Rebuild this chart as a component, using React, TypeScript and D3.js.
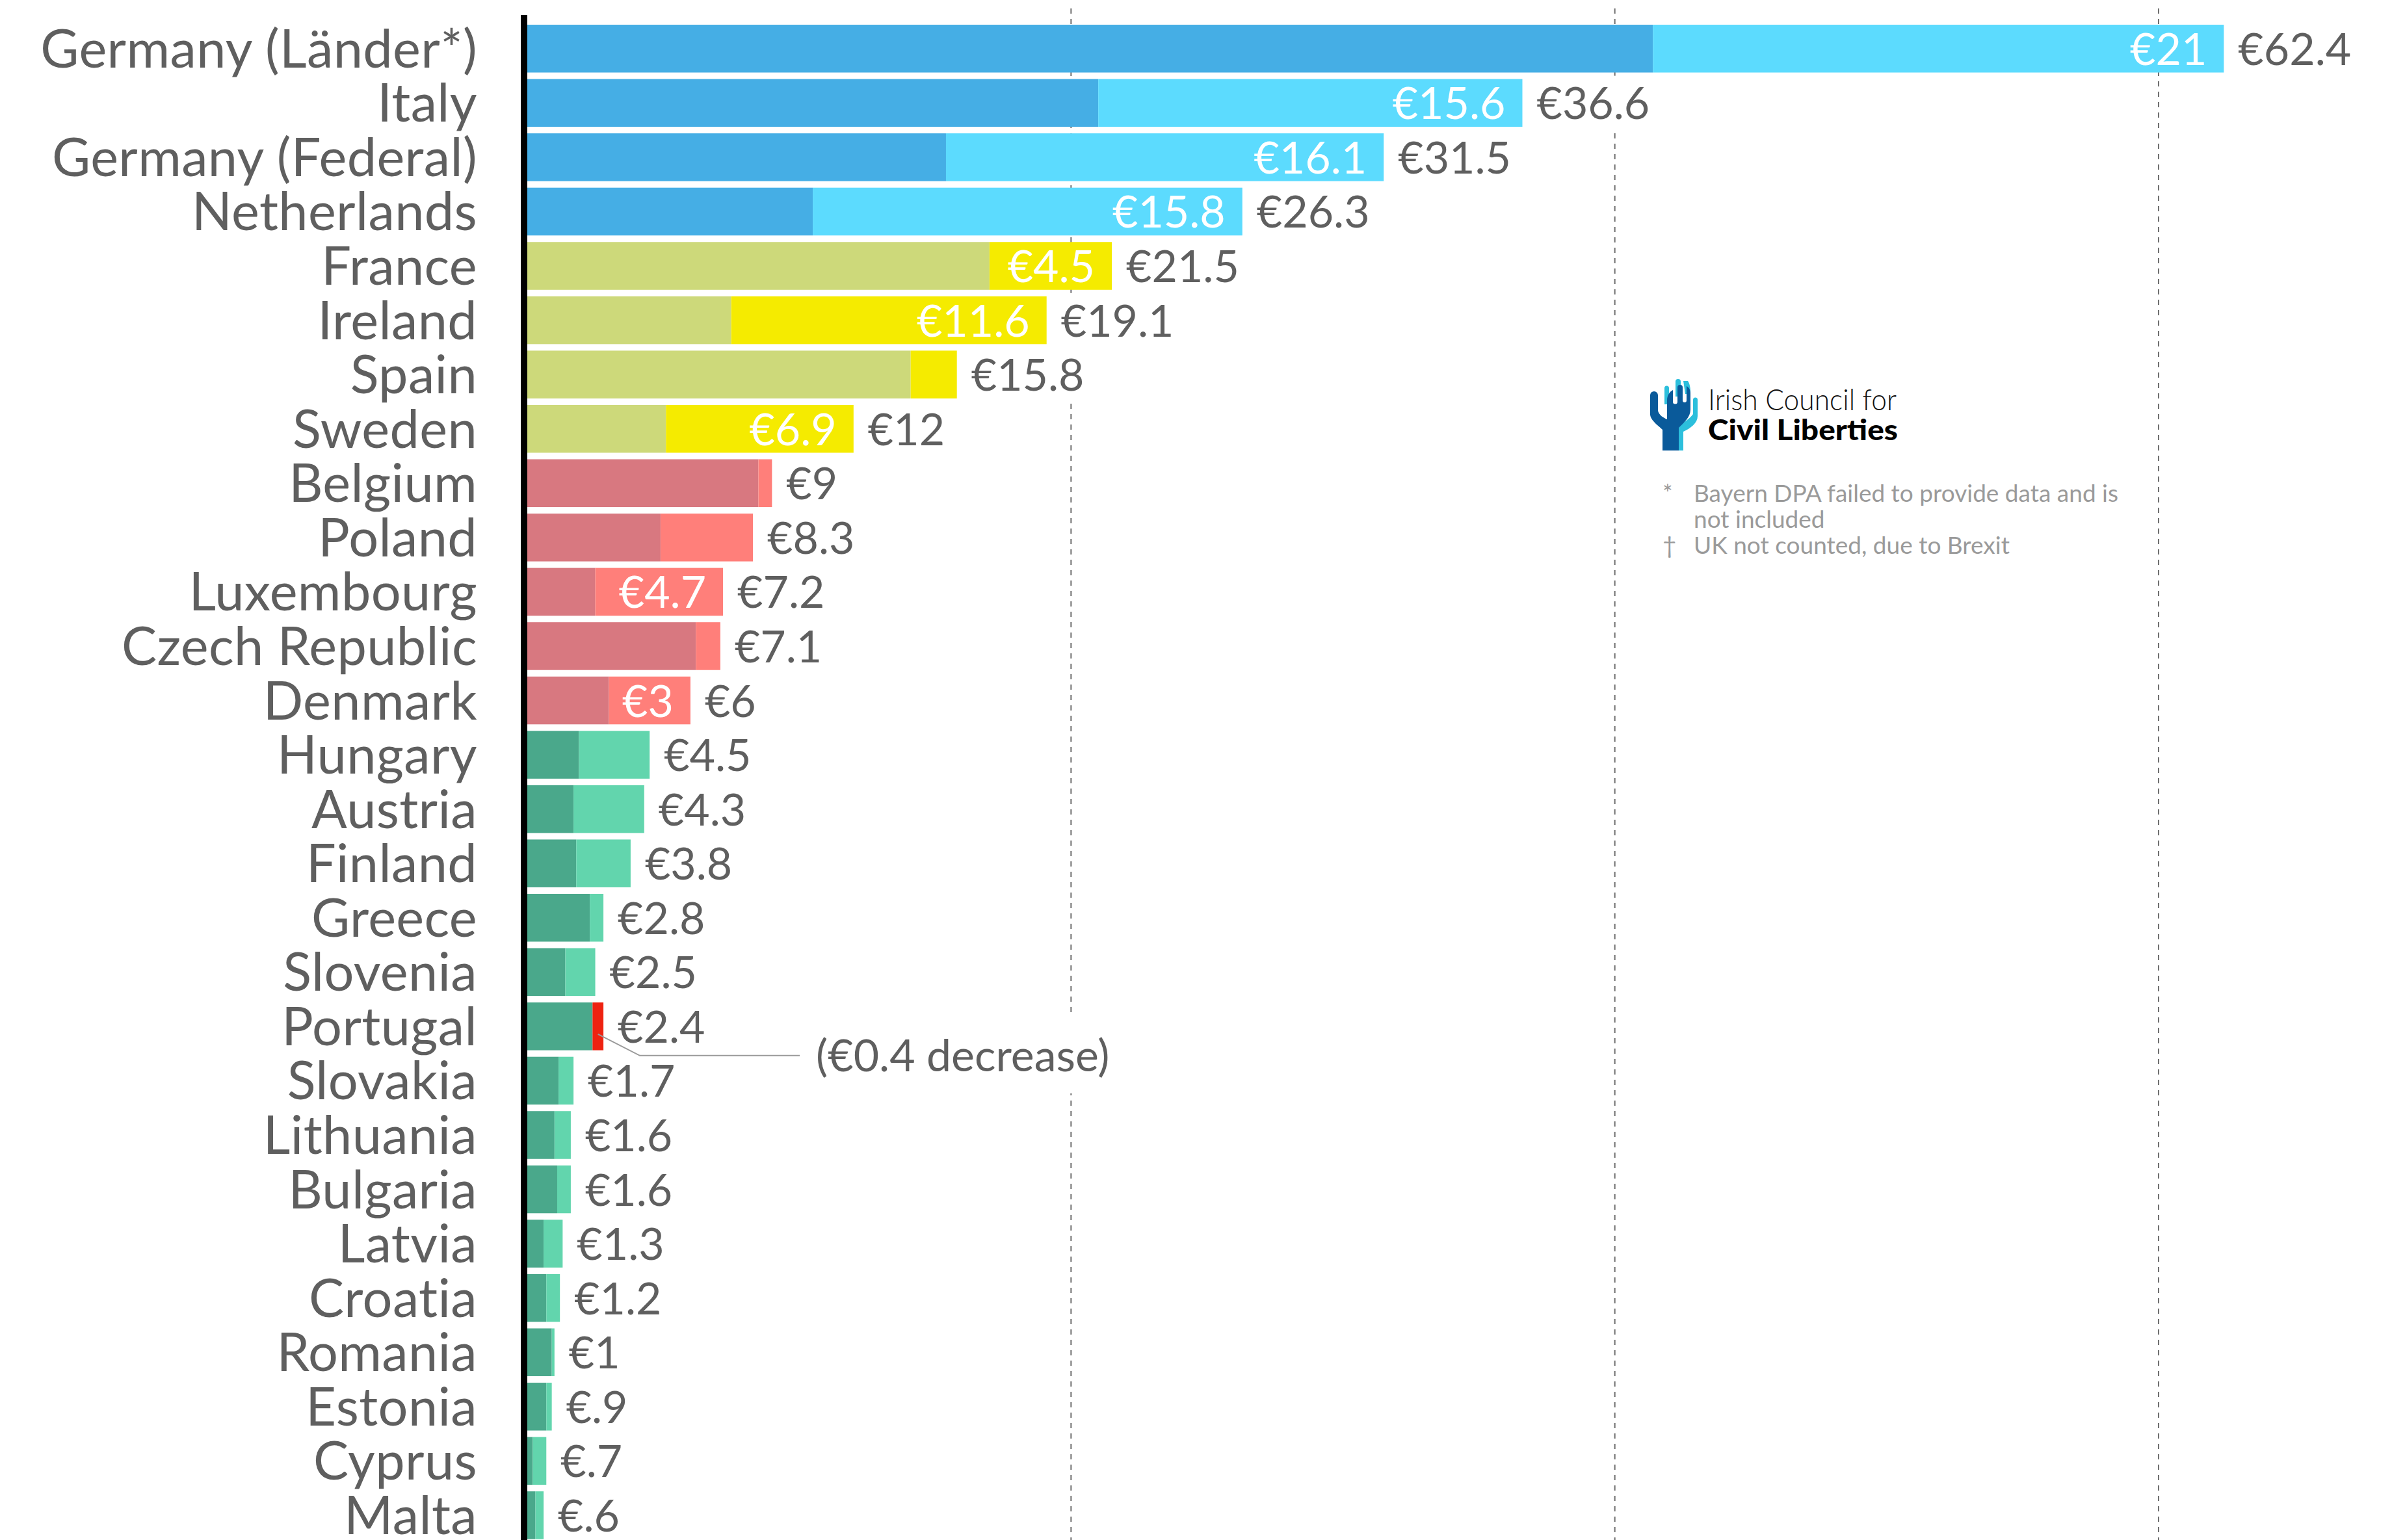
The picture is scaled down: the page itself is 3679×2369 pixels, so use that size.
import * as d3 from 'd3';
import { useEffect, useRef } from 'react';

const WIDTH = 3679;
const HEIGHT = 2369;

const countries = [
  'Germany (Länder*)',
  'Italy',
  'Germany (Federal)',
  'Netherlands',
  'France',
  'Ireland',
  'Spain',
  'Sweden',
  'Belgium',
  'Poland',
  'Luxembourg',
  'Czech Republic',
  'Denmark',
  'Hungary',
  'Austria',
  'Finland',
  'Greece',
  'Slovenia',
  'Portugal',
  'Slovakia',
  'Lithuania',
  'Bulgaria',
  'Latvia',
  'Croatia',
  'Romania',
  'Estonia',
  'Cyprus',
  'Malta',
];

// budget before (dark segment) and now (label at bar end), € millions
const previous = [
  41.4, 21.0, 15.4, 10.5, 17.0, 7.5, 14.1, 5.1, 8.5, 4.9, 2.5, 6.2, 3.0, 1.9, 1.7, 1.8, 2.3, 1.4,
  2.8, 1.15, 1.0, 1.1, 0.6, 0.7, 0.9, 0.7, 0.2, 0.3,
];
const current = [
  62.4, 36.6, 31.5, 26.3, 21.5, 19.1, 15.8, 12, 9, 8.3, 7.2, 7.1, 6, 4.5, 4.3, 3.8, 2.8, 2.5, 2.4,
  1.7, 1.6, 1.6, 1.3, 1.2, 1, 0.9, 0.7, 0.6,
];
// increase labels shown inside the bars
const increaseLabels: (number | null)[] = [
  21, 15.6, 16.1, 15.8, 4.5, 11.6, null, 6.9, null, null, 4.7, null, 3, null, null, null, null,
  null, null, null, null, null, null, null, null, null, null, null,
];
const groups = [0, 0, 0, 0, 1, 1, 1, 1, 2, 2, 2, 2, 2, 3, 3, 3, 3, 3, 3, 3, 3, 3, 3, 3, 3, 3, 3, 3];
const gridValues = [20, 40, 60];

const palette = [
  { dark: '#45aee5', light: '#5cdbfe' },
  { dark: '#cdd97a', light: '#f5eb00' },
  { dark: '#d87880', light: '#ff7f7a' },
  { dark: '#4aa88b', light: '#62d5ad' },
];
const decreaseColor = '#ee2211';
const textColor = '#5f5f5f';
const noteColor = '#9a9a9a';
const FONT = 'Lato, "Open Sans", sans-serif';

const notes = [
  { mark: '*', text: 'Bayern DPA failed to provide data and is' },
  { mark: '', text: 'not included' },
  { mark: '†', text: 'UK not counted, due to Brexit' },
];

const euro = (v: number) => `€${String(v).replace(/^0\./, '.')}`;

export default function App() {
  const svgRef = useRef<SVGSVGElement>(null);

  useEffect(() => {
    if (!svgRef.current) return;
    const svg = d3.select(svgRef.current);
    svg.selectAll('*').remove();

    const x = d3.scaleLinear().domain([0, 60]).range([811, 3320]);
    const y = d3
      .scaleBand<string>()
      .domain(countries)
      .range([33, 2372.7])
      .paddingInner(0.12)
      .paddingOuter(0.06);
    const bw = y.bandwidth();

    const rows = countries.map((name, i) => ({
      name,
      prev: previous[i],
      cur: current[i],
      inc: increaseLabels[i],
      group: groups[i],
      top: y(name) as number,
    }));

    // dashed gridlines
    svg
      .append('g')
      .selectAll('line')
      .data(gridValues)
      .join('line')
      .attr('x1', (d) => x(d))
      .attr('x2', (d) => x(d))
      .attr('y1', 13)
      .attr('y2', HEIGHT)
      .attr('stroke', '#707070')
      .attr('stroke-width', 2)
      .attr('stroke-dasharray', '8,8');

    // bars: dark = before, light = increase (red = decrease)
    const bars = svg.append('g');
    bars
      .selectAll('rect.base')
      .data(rows)
      .join('rect')
      .attr('class', 'base')
      .attr('x', x(0))
      .attr('y', (d) => d.top)
      .attr('width', (d) => x(Math.min(d.prev, d.cur)) - x(0))
      .attr('height', bw)
      .attr('fill', (d) => palette[d.group].dark);
    bars
      .selectAll('rect.change')
      .data(rows)
      .join('rect')
      .attr('class', 'change')
      .attr('x', (d) => x(Math.min(d.prev, d.cur)))
      .attr('y', (d) => d.top)
      .attr('width', (d) => Math.abs(x(d.cur) - x(d.prev)))
      .attr('height', bw)
      .attr('fill', (d) => (d.cur < d.prev ? decreaseColor : palette[d.group].light));

    // axis line
    svg
      .append('rect')
      .attr('x', 801)
      .attr('y', 23)
      .attr('width', 10)
      .attr('height', HEIGHT - 23)
      .attr('fill', '#000');

    // country labels
    svg
      .append('g')
      .selectAll('text')
      .data(rows)
      .join('text')
      .attr('x', 734)
      .attr('y', (d) => d.top + bw / 2 + 29)
      .attr('text-anchor', 'end')
      .attr('fill', textColor)
      .style('font-family', FONT)
      .style('font-size', '81px')
      .style('letter-spacing', '0.4px')
      .text((d) => d.name);

    // increase labels inside bars
    svg
      .append('g')
      .selectAll('text')
      .data(rows.filter((d) => d.inc !== null))
      .join('text')
      .attr('x', (d) => x(d.cur) - 26)
      .attr('y', (d) => d.top + bw / 2 + 25)
      .attr('text-anchor', 'end')
      .attr('fill', '#fff')
      .style('font-family', FONT)
      .style('font-size', '68px')
      .text((d) => euro(d.inc as number));

    // totals at bar ends, on white boxes that break the gridlines
    const totals = svg.append('g');
    rows.forEach((d) => {
      const g = totals.append('g');
      const t = g
        .append('text')
        .attr('x', x(Math.max(d.prev, d.cur)) + 22)
        .attr('y', d.top + bw / 2 + 25)
        .attr('fill', textColor)
        .style('font-family', FONT)
        .style('font-size', '68px')
        .text(euro(d.cur));
      const bb = (t.node() as SVGTextElement).getBBox();
      g.insert('rect', 'text')
        .attr('x', bb.x - 6)
        .attr('y', d.top - 5)
        .attr('width', bb.width + 12)
        .attr('height', bw + 10)
        .attr('fill', '#fff');
    });

    // Portugal annotation
    const pt = rows.find((d) => d.cur < d.prev)!;
    const pcy = pt.top + bw / 2;
    const sx = x((pt.cur + pt.prev) / 2);
    const ex = x(pt.prev) + 56;
    const ann = svg.append('g');
    const annText = ann
      .append('text')
      .attr('x', ex + 271)
      .attr('y', pcy + 69)
      .attr('fill', textColor)
      .style('font-family', FONT)
      .style('font-size', '68px')
      .text(`(€${(pt.prev - pt.cur).toFixed(1)} decrease)`);
    const abb = (annText.node() as SVGTextElement).getBBox();
    ann
      .insert('rect', 'text')
      .attr('x', abb.x - 10)
      .attr('y', abb.y - 20)
      .attr('width', abb.width + 20)
      .attr('height', abb.height + 40)
      .attr('fill', '#fff');
    ann
      .append('path')
      .attr('d', `M${sx},${pcy + 12}L${ex},${pcy + 45}L${ex + 246},${pcy + 45}`)
      .attr('fill', 'none')
      .attr('stroke', '#9a9a9a')
      .attr('stroke-width', 2);

    // logo
    const logo = svg.append('g').attr('transform', 'translate(2520,560)');
    logo
      .append('path')
      .attr('d', 'M62,133L62,97C67,90 79,85 84,77L84,55A3.5,3.5 0 0 1 91,55L91,80C91,91 80,99 69,104L69,133Z')
      .attr('fill', '#2cbfdc');
    logo
      .append('path')
      .attr('d', 'M40,37A3.5,3.5 0 0 1 47,37L47,62L40,62Z M57,27A4,4 0 0 1 65,27L65,50L57,50Z M69,26L76,26C80,32 80,40 80,46L72,46Z')
      .attr('fill', '#2cbfdc');
    logo
      .append('path')
      .attr(
        'd',
        'M37,133L37,101C31,95 19,87 18,78L18,48A6,6 0 0 1 30,48L30,72C32,79 39,83 44,85L44,56C44,47 49,42 53,40L53,58A3.5,3.5 0 0 0 60,58L60,36A4,4 0 0 1 68,36L68,56A3,3 0 0 0 74,56L74,34C78,36 80,40 80,46L80,70C80,82 70,90 62,98L62,133Z'
      )
      .attr('fill', '#0a5a9a');
    logo
      .append('text')
      .attr('x', 107)
      .attr('y', 71)
      .attr('textLength', 290)
      .attr('lengthAdjust', 'spacingAndGlyphs')
      .attr('fill', '#111')
      .style('font-family', FONT)
      .style('font-weight', 300)
      .style('font-size', '46px')
      .text('Irish Council for');
    logo
      .append('text')
      .attr('x', 107)
      .attr('y', 117)
      .attr('textLength', 292)
      .attr('lengthAdjust', 'spacingAndGlyphs')
      .attr('fill', '#000')
      .style('font-family', FONT)
      .style('font-weight', 900)
      .style('font-size', '44px')
      .text('Civil Liberties');

    // footnotes
    const nt = svg.append('g');
    notes.forEach((n, i) => {
      const by = 772 + i * 40;
      if (n.mark) {
        nt.append('text')
          .attr('x', 2557)
          .attr('y', by)
          .attr('fill', noteColor)
          .style('font-family', FONT)
          .style('font-size', '37px')
          .text(n.mark);
      }
      nt.append('text')
        .attr('x', 2605)
        .attr('y', by)
        .attr('fill', noteColor)
        .style('font-family', FONT)
        .style('font-size', '37px')
        .text(n.text);
    });
  }, []);

  return (
    <svg
      ref={svgRef}
      width={WIDTH}
      height={HEIGHT}
      style={{ position: 'absolute', left: 0, top: 0, display: 'block', background: '#fff' }}
    />
  );
}
